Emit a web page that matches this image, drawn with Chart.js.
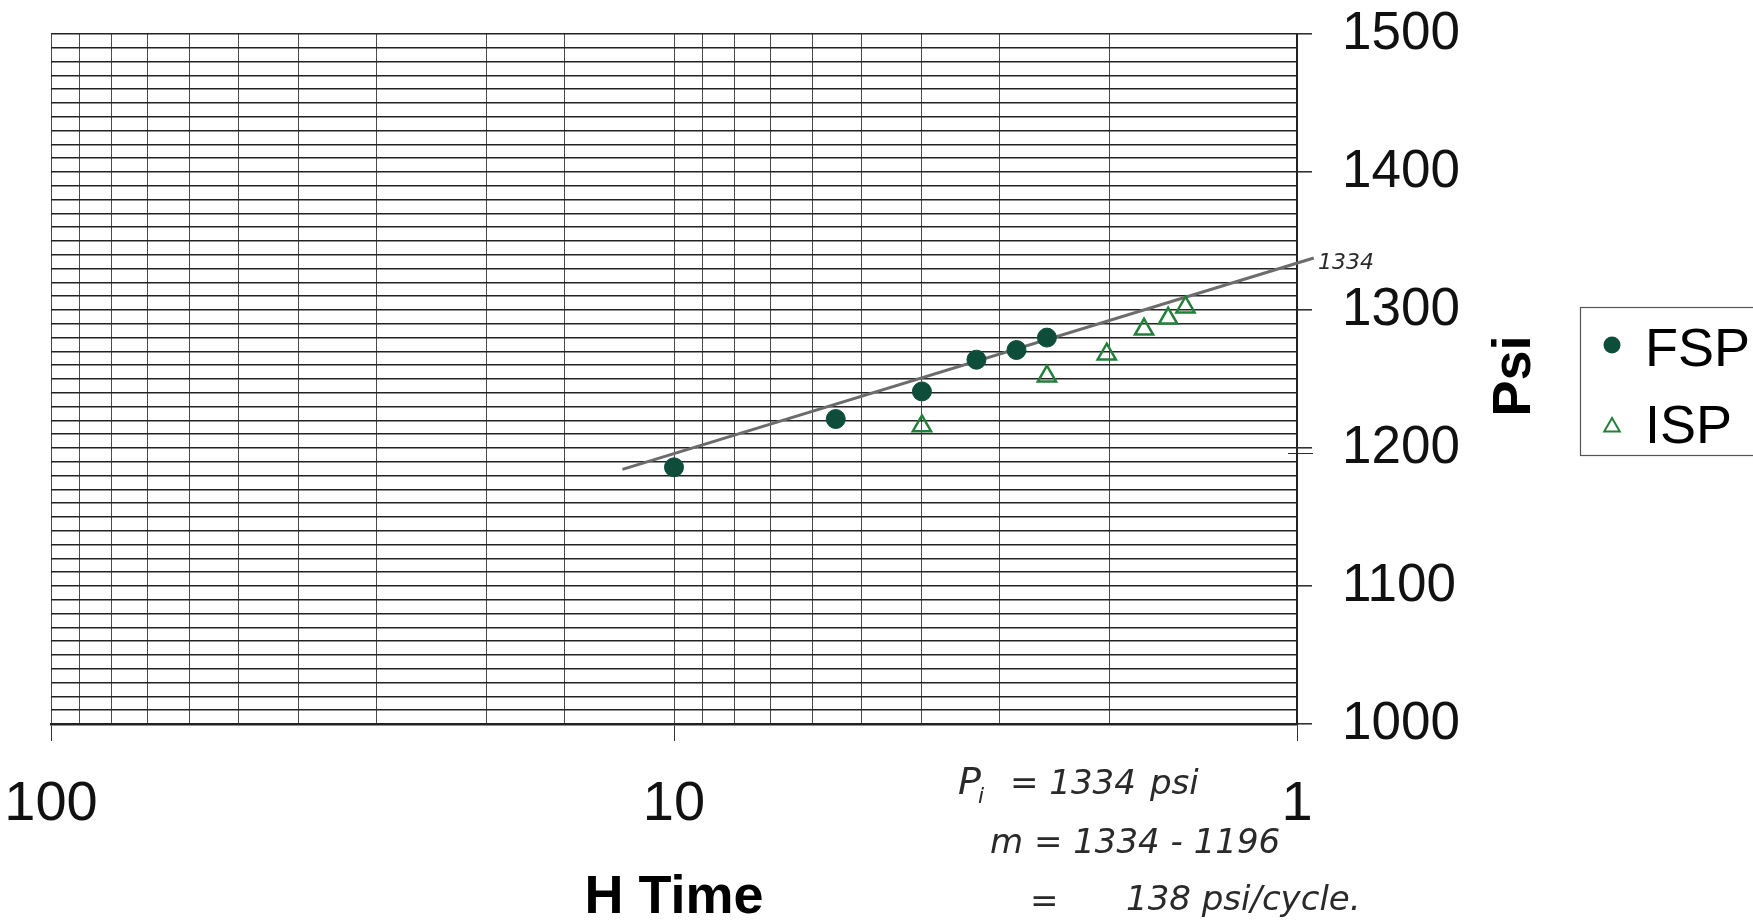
<!DOCTYPE html>
<html>
<head>
<meta charset="utf-8">
<script src="https://cdn.jsdelivr.net/npm/chart.js@4.4.1/dist/chart.umd.min.js"></script>
<style>
  body { margin: 0; background: #fff; }
</style>
</head>
<body>
<canvas id="myChart" width="1753" height="922"></canvas>
<script>
// Horner plot data
const fspTime = [10.0, 5.5, 4.0, 3.27, 2.82, 2.52];
const fspPsi = [1186, 1221, 1241, 1264, 1271, 1280];

const ispTime = [4.0, 2.52, 2.02, 1.76, 1.61, 1.51];
const ispPsi = [1216, 1252, 1268, 1286, 1294, 1302];

// straight line drawn through the late points
const lineTime = [12.1, 0.94];
const linePsi = [1184.5, 1337.7];

const xTickLabels = [1, 10, 100];
const yTickLabels = [1000, 1100, 1200, 1300, 1400, 1500];

const FONT = '"Liberation Sans", Arial, Helvetica, sans-serif';
const HAND = '"DejaVu Sans", sans-serif';

function toPoints(xs, ys) {
    return xs.map((x, i) => ({ x: x, y: ys[i] }));
}

function isDecade(v) {
    const l = Math.log10(v);
    return Math.abs(l - Math.round(l)) < 1e-9;
}

// keep the big tick labels from pushing the plot area around
function noPad(s) {
    s.paddingTop = 0;
    s.paddingBottom = 0;
    s.paddingLeft = 0;
    s.paddingRight = 0;
}

// legend box, rotated Psi title and the handwritten notes
const extras = {
    id: 'extras',
    afterDraw(chart) {
        const c = chart.ctx;
        const area = chart.chartArea;
        const ys = chart.scales.y;

        c.save();

        // y title, reads bottom to top
        c.save();
        c.translate(1530, 376);
        c.rotate(-Math.PI / 2);
        c.font = 'bold 54px ' + FONT;
        c.fillStyle = '#000';
        c.textAlign = 'center';
        c.textBaseline = 'alphabetic';
        c.fillText('Psi', 0, 0);
        c.restore();

        // legend
        c.strokeStyle = '#555';
        c.lineWidth = 1.2;
        c.strokeRect(1580.5, 307.5, 200, 148);

        const fsp = chart.data.datasets[0];
        const isp = chart.data.datasets[1];

        c.fillStyle = fsp.backgroundColor;
        c.beginPath();
        c.arc(1612, 345, 8.5, 0, Math.PI * 2);
        c.fill();

        c.strokeStyle = isp.borderColor;
        c.lineWidth = 2;
        const r = 9;
        c.beginPath();
        c.moveTo(1612, 427 - r);
        c.lineTo(1612 + r * Math.sin(Math.PI * 2 / 3), 427 + r / 2);
        c.lineTo(1612 - r * Math.sin(Math.PI * 2 / 3), 427 + r / 2);
        c.closePath();
        c.stroke();

        c.fillStyle = '#000';
        c.font = '54px ' + FONT;
        c.textAlign = 'left';
        c.textBaseline = 'alphabetic';
        c.fillText('FSP', 1645, 366);
        c.fillText('ISP', 1645, 443);

        // handwritten notes
        c.fillStyle = '#2a2a2a';
        c.strokeStyle = '#2a2a2a';
        c.font = 'italic 300 22px ' + HAND;
        c.fillText('1334', 1318, 269);

        const y1196 = ys.getPixelForValue(1196);
        c.lineWidth = 1;
        c.beginPath();
        c.moveTo(area.right - 9, y1196);
        c.lineTo(area.right + 16, y1196);
        c.stroke();

        c.font = 'italic 300 38px ' + HAND;
        c.fillText('P', 958, 794);
        c.font = 'italic 300 22px ' + HAND;
        c.fillText('i', 978, 803);
        c.font = 'italic 300 34px ' + HAND;
        c.fillText('= 1334', 1010, 794);
        c.fillText('psi', 1150, 794);
        c.fillText('m = 1334 - 1196', 990, 853);
        c.fillText('=', 1030, 912);
        c.fillText('138 psi/cycle.', 1126, 910);

        c.restore();
    }
};

const ctx = document.getElementById('myChart');

const chart = new Chart(ctx, {
    type: 'scatter',
    data: {
        datasets: [
            {
                label: 'FSP',
                data: toPoints(fspTime, fspPsi),
                pointStyle: 'circle',
                pointRadius: 9.5,
                backgroundColor: '#0f4d3b',
                borderColor: '#0f4d3b',
                borderWidth: 1
            },
            {
                label: 'ISP',
                data: toPoints(ispTime, ispPsi),
                pointStyle: 'triangle',
                pointRadius: 10.5,
                backgroundColor: 'rgba(0,0,0,0)',
                borderColor: '#23803a',
                borderWidth: 2.5
            },
            {
                label: 'line',
                data: toPoints(lineTime, linePsi),
                showLine: true,
                pointRadius: 0,
                borderColor: '#6c6c6c',
                borderWidth: 3,
                clip: false
            }
        ]
    },
    options: {
        responsive: false,
        animation: false,
        devicePixelRatio: 1,
        layout: {
            padding: { left: 51, top: 34, right: 0, bottom: 0 }
        },
        plugins: {
            legend: { display: false },
            tooltip: { enabled: false }
        },
        scales: {
            x: {
                type: 'logarithmic',
                position: 'bottom',
                reverse: true,
                min: 1,
                max: 100,
                afterFit: (s) => { s.height = 198; noPad(s); },
                ticks: {
                    autoSkip: false,
                    maxRotation: 0,
                    minRotation: 0,
                    padding: 30,
                    color: '#111',
                    font: { family: FONT, size: 56 },
                    callback: (v) => (isDecade(v) && xTickLabels.includes(Math.round(v))) ? String(Math.round(v)) : ''
                },
                grid: {
                    color: '#4a4a4a',
                    lineWidth: 1,
                    tickLength: 17,
                    tickColor: (c) => (c.tick && isDecade(c.tick.value)) ? '#333' : 'rgba(0,0,0,0)'
                },
                border: { color: '#222', width: 2.5 },
                title: {
                    display: true,
                    text: 'H Time',
                    color: '#000',
                    font: { family: FONT, size: 54, weight: 'bold', lineHeight: 0.9 },
                    padding: { top: 0, bottom: 0 }
                }
            },
            y: {
                type: 'linear',
                position: 'right',
                min: 1000,
                max: 1500,
                afterFit: (s) => { s.width = 456; noPad(s); },
                ticks: {
                    stepSize: 10,
                    autoSkip: false,
                    padding: 30,
                    color: '#111',
                    font: { family: FONT, size: 53 },
                    callback: (v) => yTickLabels.includes(v) ? String(v) : ''
                },
                grid: {
                    color: '#222',
                    lineWidth: 1.6,
                    tickLength: 15,
                    tickColor: (c) => (c.tick && yTickLabels.includes(c.tick.value)) ? '#333' : 'rgba(0,0,0,0)'
                },
                border: { color: '#222', width: 2 }
            }
        }
    },
    plugins: [extras]
});
</script>
</body>
</html>
